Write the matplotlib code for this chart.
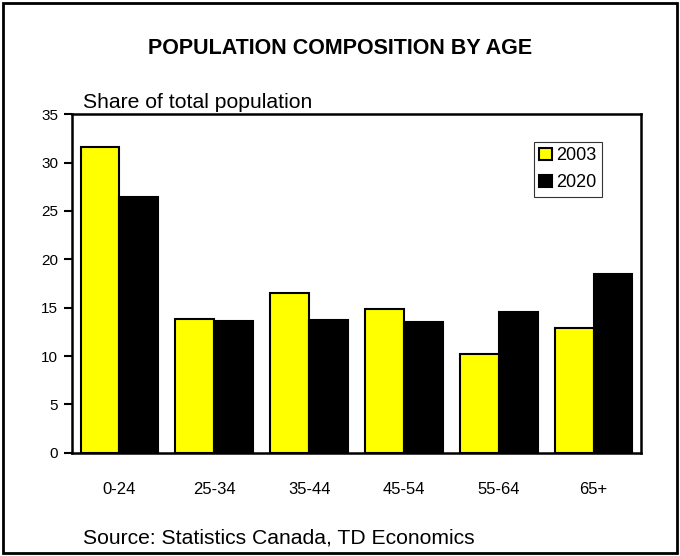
import numpy as np
import matplotlib.pyplot as plt
from matplotlib.patches import Rectangle

plt.rcParams['font.family'] = ['Liberation Sans', 'DejaVu Sans']

age_groups = ['0-24', '25-34', '35-44', '45-54', '55-64', '65+']
share_2003 = [31.6, 13.8, 16.55, 14.9, 10.25, 12.9]
share_2020 = [26.4, 13.65, 13.75, 13.55, 14.6, 18.45]
yticks = [0, 5, 10, 15, 20, 25, 30, 35]

fig = plt.figure(figsize=(6.8, 5.56), dpi=100)
ax = fig.add_axes([0.1059, 0.1858, 0.8367, 0.6086])

x = np.arange(len(age_groups))
w = 0.41
ax.bar(x - w/2, share_2003, w, color='#ffff00', edgecolor='black', linewidth=1.5, label='2003')
ax.bar(x + w/2, share_2020, w, color='black', edgecolor='black', linewidth=1.5, label='2020')

ax.set_xlim(-0.5, len(age_groups) - 0.5)
ax.set_ylim(0, 35)
ax.set_yticks(yticks)
ax.set_xticks(x)
ax.set_xticklabels(age_groups)
ax.tick_params(axis='y', direction='out', length=6, width=1.5, labelsize=11, pad=4)
ax.tick_params(axis='x', length=0, labelsize=12, pad=21)
for s in ax.spines.values():
    s.set_linewidth(1.8)

leg = ax.legend(loc='upper left', bbox_to_anchor=(534/680, 1 - 142/556),
                bbox_transform=fig.transFigure, fontsize=13, frameon=True,
                fancybox=False, handlelength=0.67, handleheight=0.67,
                handletextpad=0.28, borderpad=0.3, labelspacing=0.55,
                borderaxespad=0)
leg.get_frame().set_edgecolor('black')
leg.get_frame().set_linewidth(0.8)

fig.text(0.5, 1 - 49/556, 'POPULATION COMPOSITION BY AGE', ha='center', va='center',
         fontsize=15.5, fontweight='bold')
fig.text(83/680, 1 - 102.5/556, 'Share of total population', ha='left', va='center', fontsize=15.2)
fig.text(83/680, 1 - 538/556, 'Source: Statistics Canada, TD Economics', ha='left', va='center',
         fontsize=15.2)

# outer frame around the whole figure
fig.patches.append(Rectangle((3/680, 3/556), 674/680, 550/556, transform=fig.transFigure,
                             fill=False, edgecolor='black', linewidth=2))

fig.savefig('out.png', dpi=100)
